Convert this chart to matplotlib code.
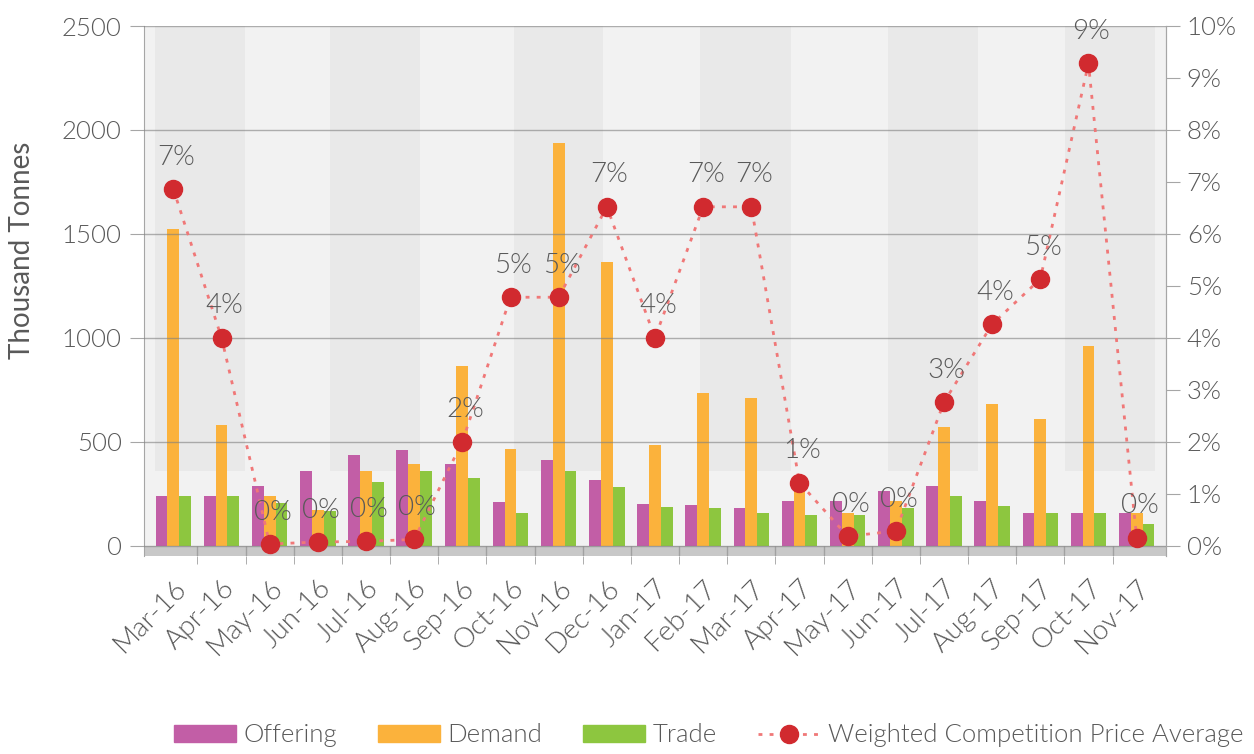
import numpy as np
import matplotlib.pyplot as plt
from matplotlib.lines import Line2D
from matplotlib.patches import Patch

plt.rcParams['font.family'] = ['Lato', 'DejaVu Sans']
plt.rcParams['font.weight'] = 300

months = ['Mar-16', 'Apr-16', 'May-16', 'Jun-16', 'Jul-16', 'Aug-16', 'Sep-16',
          'Oct-16', 'Nov-16', 'Dec-16', 'Jan-17', 'Feb-17', 'Mar-17', 'Apr-17',
          'May-17', 'Jun-17', 'Jul-17', 'Aug-17', 'Sep-17', 'Oct-17', 'Nov-17']
offering = [240, 240, 289, 361, 434, 458, 395, 211, 410, 318, 202,
            197, 183, 216, 216, 265, 289, 216, 158, 158, 158]
demand = [1525, 582, 240, 173, 361, 395, 862, 467, 1938, 1364, 482,
          736, 709, 300, 158, 216, 569, 681, 610, 961, 158]
trade = [240, 240, 206, 165, 308, 361, 327, 158, 361, 284, 187,
         183, 158, 145, 145, 180, 240, 192, 158, 158, 105]
# weighted competition price average, %
price = [6.86, 4.0, 0.03, 0.07, 0.08, 0.12, 2.0, 4.78, 4.78, 6.52, 4.0,
         6.52, 6.52, 1.21, 0.18, 0.28, 2.76, 4.26, 5.13, 9.28, 0.15]

left_ticks = [0, 500, 1000, 1500, 2000, 2500]
right_ticks = list(range(0, 11))

# shaded background bands (category units)
bands = [(-0.38, 1.49), (3.26, 5.13), (7.08, 8.92),
         (10.94, 12.82), (14.84, 16.71), (18.52, 20.39)]

c_off = '#c25ea6'
c_dem = '#fbb23c'
c_trd = '#8dc63f'
c_mark = '#d12a2f'
c_line = '#f07878'
c_text = '#595959'
c_axis = '#a6a6a6'

fig = plt.figure(figsize=(12.54, 7.54), dpi=100)
ax = fig.add_axes([144 / 1254, 1 - 556 / 754, 1022 / 1254, 530 / 754])
ax.set_facecolor('#f2f2f2')

x = np.arange(len(months))
w = 0.245

ax.set_xlim(-0.61, 20.61)
ax.set_ylim(-50, 2500)

for b0, b1 in bands:
    ax.axvspan(b0, b1, ymin=410 / 2550, ymax=1, color='#e9e9e9', lw=0, zorder=0.5)
ax.axhspan(-50, 0, color='#c8c8c8', lw=0, zorder=0.6)
ax.vlines(x[:-1] + 0.5, -50, 0, color='#a0a0a0', lw=1, zorder=0.7)

ax.bar(x - w, offering, w, color=c_off, zorder=2)
ax.bar(x, demand, w, color=c_dem, zorder=2)
ax.bar(x + w, trade, w, color=c_trd, zorder=2)

for v in left_ticks:
    ax.axhline(v, color='#7f7f7f', lw=1, alpha=0.6, zorder=3)

ax.set_yticks(left_ticks)
ax.tick_params(axis='y', length=10, color=c_axis, labelsize=18.5,
               labelcolor=c_text, pad=6)
ax.set_xticks(x)
ax.set_xticklabels(months, rotation=45, ha='right', rotation_mode='anchor')
ax.tick_params(axis='x', length=0, labelsize=20, labelcolor=c_text, pad=14)
ax.set_xticks(x[:-1] + 0.5, minor=True)
ax.tick_params(axis='x', which='minor', length=6, color='#a0a0a0')

ax.set_ylabel('Thousand Tonnes', fontsize=20, color=c_text)
ax.yaxis.set_label_coords(-0.107, 0.577)

for s in ['top', 'bottom']:
    ax.spines[s].set_visible(False)
ax.spines['left'].set_color(c_axis)
ax.spines['right'].set_color(c_axis)

ax2 = ax.twinx()
ax2.set_ylim(-0.2, 10)
ax2.plot(x, price, color=c_line, lw=2.0, dashes=(1.4, 2.6), zorder=4)
ax2.plot(x, price, 'o', color=c_mark, markersize=13, zorder=5)
for xi, p in zip(x, price):
    ax2.annotate('%d%%' % round(p), (xi, p), xytext=(2, 23),
                 textcoords='offset points', ha='center', va='center',
                 fontsize=20, color=c_text, zorder=6)

ax2.set_yticks(right_ticks)
ax2.set_yticklabels(['%d%%' % t for t in right_ticks])
ax2.tick_params(axis='y', length=10, color=c_axis, labelsize=18.5,
                labelcolor=c_text, pad=5)
for s in ['top', 'bottom', 'left']:
    ax2.spines[s].set_visible(False)
ax2.spines['right'].set_color(c_axis)

handles = [Patch(color=c_off), Patch(color=c_dem), Patch(color=c_trd),
           Line2D([], [], color=c_line, lw=2.0, dashes=(1.4, 2.6),
                  marker='o', markersize=13, markerfacecolor=c_mark,
                  markeredgecolor=c_mark)]
labels = ['Offering', 'Demand', 'Trade', 'Weighted Competition Price Average']
fig.legend(handles, labels, loc='lower center', bbox_to_anchor=(0.565, -0.022),
           ncol=4, frameon=False, fontsize=18.5, labelcolor=c_text,
           handlelength=2.4, handleheight=0.6, handletextpad=0.3,
           columnspacing=1.6)

fig.savefig('out.png', dpi=100)
